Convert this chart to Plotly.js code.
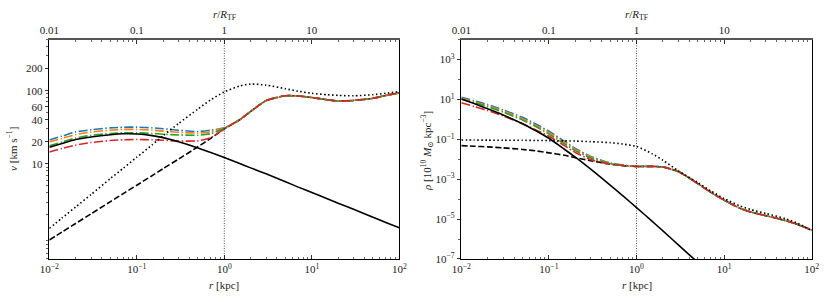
<!DOCTYPE html>
<html>
<head>
<meta charset="utf-8">
<script src="https://cdn.plot.ly/plotly-3.0.1.min.js"></script>
<style>html,body{margin:0;padding:0;background:#fff;}#plot{width:830px;height:302px;}</style>
</head>
<body>
<div id="plot"></div>
<script>
// ---------------- DATA ----------------
const r = [0.01, 0.014, 0.02, 0.03, 0.05, 0.07, 0.1, 0.15, 0.2, 0.3, 0.5, 0.7, 1, 1.5, 2, 3, 5, 7, 10, 15, 20, 30, 50, 70, 100];
const R_TF = 1;

// left panel: circular velocity [km/s]
const vSolid  = [16.8, 19.0, 21.5, 23.3, 25.0, 25.7, 25.6, 24.3, 22.8, 20.0, 16.5, 14.3, 12.2, 10.1, 8.8, 7.3, 5.7, 4.8, 4.05, 3.33, 2.9, 2.4, 1.86, 1.58, 1.34];
const vDashed = [0.91, 1.17, 1.53, 2.07, 3.04, 3.92, 5.1, 6.9, 8.6, 11.6, 17.1, 22.3, 30, 40, 52, 73, 85, 84.5, 80.5, 75, 72.3, 73.5, 78.5, 86, 93];
const vDotted = [1.31, 1.82, 2.57, 3.8, 6.3, 8.7, 12.3, 18.2, 24.2, 35.5, 56, 75, 96, 116, 123, 119, 106, 98, 92, 88, 86, 85, 88, 92, 97];
const vBlue   = [21.2, 23.9, 27.3, 29.2, 31.0, 31.6, 31.7, 31.0, 30.2, 28.8, 27.6, 28.8, 31, 40, 52, 73, 85, 84.5, 80.5, 75, 72.3, 73.5, 78.5, 86, 93];
const vOrange = [19.8, 22.3, 25.0, 27.2, 28.8, 29.5, 29.5, 28.8, 28.0, 27.0, 26.3, 27.4, 31, 40, 52, 73, 85, 84.5, 80.5, 75, 72.3, 73.5, 78.5, 86, 93];
const vGreen  = [17.6, 19.9, 22.5, 24.5, 26.0, 26.5, 26.5, 26.0, 25.4, 24.8, 24.6, 25.8, 30.5, 40, 52, 73, 85, 84.5, 80.5, 75, 72.3, 73.5, 78.5, 86, 93];
const vRed    = [14.5, 16.2, 18.0, 19.5, 20.8, 21.3, 21.5, 21.3, 21.0, 20.5, 20.6, 22.8, 30, 40, 52, 73, 85, 84.5, 80.5, 75, 72.3, 73.5, 78.5, 86, 93];

// right panel: density [1e10 Msun/kpc^3]
const rhoSolid  = [10.5, 6.17, 3.39, 1.66, 0.603, 0.275, 0.112, 0.0316, 0.0126, 3.16e-3, 5.0e-4, 1.45e-4, 3.8e-5, 7.9e-6, 2.57e-6, 5.1e-7, 6.8e-8, 1.8e-8];
const rhoDashed = [0.0479, 0.0447, 0.0417, 0.0372, 0.0309, 0.0263, 0.0209, 0.0158, 0.0120, 8.5e-3, 5.75e-3, 4.79e-3, 4.37e-3, 4.37e-3, 4.07e-3, 2.4e-3, 6.03e-4, 2.24e-4, 8.9e-5, 3.55e-5, 2.29e-5, 1.48e-5, 8.5e-6, 5.25e-6, 2.82e-6];
const rhoDotted = [0.0912, 0.0912, 0.0902, 0.0891, 0.0891, 0.0871, 0.0861, 0.0832, 0.0813, 0.0759, 0.0676, 0.0575, 0.0437, 0.0191, 8.9e-3, 2.63e-3, 6.76e-4, 2.63e-4, 1.07e-4, 4.68e-5, 3.02e-5, 1.91e-5, 1.05e-5, 6.03e-6, 2.63e-6];
const rhoBlue   = [12.9, 8.51, 5.5, 2.95, 1.26, 0.603, 0.251, 0.0794, 0.0347, 0.0138, 6.46e-3, 5.13e-3, 4.37e-3, 4.37e-3, 4.07e-3, 2.4e-3, 6.03e-4, 2.24e-4, 8.9e-5, 3.55e-5, 2.29e-5, 1.48e-5, 8.5e-6, 5.25e-6, 2.82e-6];
const rhoOrange = [11.5, 7.59, 4.79, 2.57, 1.07, 0.513, 0.214, 0.0692, 0.0309, 0.0126, 6.17e-3, 5.01e-3, 4.37e-3, 4.37e-3, 4.07e-3, 2.4e-3, 6.03e-4, 2.24e-4, 8.9e-5, 3.55e-5, 2.29e-5, 1.48e-5, 8.5e-6, 5.25e-6, 2.82e-6];
const rhoGreen  = [10.5, 6.92, 4.27, 2.29, 0.933, 0.447, 0.182, 0.0589, 0.0269, 0.0115, 6.03e-3, 4.9e-3, 4.37e-3, 4.37e-3, 4.07e-3, 2.4e-3, 6.03e-4, 2.24e-4, 8.9e-5, 3.55e-5, 2.29e-5, 1.48e-5, 8.5e-6, 5.25e-6, 2.82e-6];
const rhoRed    = [6.76, 4.37, 2.75, 1.48, 0.603, 0.302, 0.141, 0.0479, 0.0219, 9.55e-3, 5.62e-3, 4.79e-3, 4.37e-3, 4.37e-3, 4.07e-3, 2.4e-3, 6.03e-4, 2.24e-4, 8.9e-5, 3.55e-5, 2.29e-5, 1.48e-5, 8.5e-6, 5.25e-6, 2.82e-6];

// tick labels
const xTickVals = [0.01, 0.1, 1, 10, 100];
const xTickText = ['10<sup>−2</sup>', '10<sup>−1</sup>', '10<sup>0</sup>', '10<sup>1</sup>', '10<sup>2</sup>'];
const topTickVals = [0.01, 0.1, 1, 10];
const topTickText = ['0.01', '0.1', '1', '10'];
const vTickVals = [10, 20, 40, 60, 100, 200];
const vTickText = ['10', '20', '40', '60', '100', '200'];
const rhoTickVals = [1e3, 1e1, 1e-1, 1e-3, 1e-5, 1e-7];
const rhoTickText = ['10<sup>3</sup>', '10<sup>1</sup>', '10<sup>−1</sup>', '10<sup>−3</sup>', '10<sup>−5</sup>', '10<sup>−7</sup>'];

// ---------------- styling ----------------
const C = {blue: '#1f77b4', orange: '#ff7f0e', green: '#2ca02c', red: '#d62728', black: '#000000'};
const DASH = '6px,2.5px', DOT = '1.5px,2.5px', DASHDOT = '9px,2.4px,1.5px,2.4px';
const FONT = 'Liberation Serif, DejaVu Serif, serif';

function minorLog(decades, subs) {
  const out = [];
  decades.forEach(d => subs.forEach(s => out.push(s * d)));
  return out;
}
const xMinor = minorLog([0.01, 0.1, 1, 10], [2, 3, 4, 5, 6, 7, 8, 9]);
const vMinor = [0.5, 0.6, 0.7, 0.8, 0.9, 2, 3, 4, 5, 6, 7, 8, 9, 30, 50, 70, 80, 90, 300, 400, 500];
const rhoMinor = [1e4, 1e2, 1, 1e-2, 1e-4, 1e-6];

function tr(x, y, color, dash, xa, ya, w) {
  return {x: x, y: y, type: 'scatter', mode: 'lines', xaxis: xa, yaxis: ya, hoverinfo: 'skip', showlegend: false,
          line: {color: color, dash: dash, width: w || 1.6, shape: 'spline', smoothing: 0.6}};
}
// invisible carriers so that the top r/R_TF axes are drawn
function carrier(xa, ya, y) {
  return {x: r, y: y, type: 'scatter', mode: 'lines', xaxis: xa, yaxis: ya, hoverinfo: 'skip', showlegend: false,
          opacity: 0, line: {width: 0}};
}

const traces = [
  tr(r, vDashed, C.black, DASH, 'x', 'y'),
  tr(r, vBlue, C.blue, DASHDOT, 'x', 'y'),
  tr(r, vOrange, C.orange, DASHDOT, 'x', 'y'),
  tr(r, vGreen, C.green, DASHDOT, 'x', 'y'),
  tr(r, vRed, C.red, DASHDOT, 'x', 'y'),
  tr(r, vSolid, C.black, 'solid', 'x', 'y'),
  tr(r, vDotted, C.black, DOT, 'x', 'y'),
  tr(r, rhoDashed, C.black, DASH, 'x2', 'y2'),
  tr(r, rhoBlue, C.blue, DASHDOT, 'x2', 'y2'),
  tr(r, rhoOrange, C.orange, DASHDOT, 'x2', 'y2'),
  tr(r, rhoGreen, C.green, DASHDOT, 'x2', 'y2'),
  tr(r, rhoRed, C.red, DASHDOT, 'x2', 'y2'),
  tr(r.slice(0, rhoSolid.length), rhoSolid, C.black, 'solid', 'x2', 'y2'),
  tr(r, rhoDotted, C.black, DOT, 'x2', 'y2'),
  carrier('x3', 'y', vDotted),
  carrier('x4', 'y2', rhoDotted)
];

const tickFont = {family: FONT, size: 11, color: '#222'};
function xBottom(domain, anchor) {
  return {domain: domain, anchor: anchor, type: 'log', range: [-2, 2], tickvals: xTickVals, ticktext: xTickText,
          ticks: 'inside', ticklen: 4, tickwidth: 0.8, tickcolor: '#000', showline: true, linecolor: '#000', linewidth: 1,
          showgrid: false, zeroline: false, tickfont: tickFont, automargin: false,
          minor: {tickvals: xMinor, ticks: 'inside', ticklen: 2, tickwidth: 0.6, tickcolor: '#000', showgrid: false}};
}
function xTop(over, anchor) {
  return {overlaying: over, anchor: anchor, side: 'top', type: 'log', range: [-2, 2], tickvals: topTickVals, ticktext: topTickText,
          ticks: 'inside', ticklen: 4, tickwidth: 0.8, tickcolor: '#000', showline: true, linecolor: '#555', linewidth: 1.5,
          showgrid: false, zeroline: false, tickfont: tickFont, automargin: false,
          minor: {tickvals: xMinor, ticks: 'inside', ticklen: 2, tickwidth: 0.6, tickcolor: '#000', showgrid: false}};
}
function yAx(domain, anchor, range, tv, tt, minor) {
  return {domain: domain, anchor: anchor, type: 'log', range: range, tickvals: tv, ticktext: tt,
          ticks: 'outside', ticklen: 3.5, tickwidth: 0.8, tickcolor: '#000', showline: true, linecolor: '#000', linewidth: 1,
          mirror: true, showgrid: false, zeroline: false, tickfont: tickFont, automargin: false,
          minor: {tickvals: minor, ticks: 'outside', ticklen: 2, tickwidth: 0.6, tickcolor: '#000', showgrid: false}};
}

const yDom = [0.1424, 0.8692];
const titleFont = {family: FONT, size: 11, color: '#222'};
const layout = {
  width: 830, height: 302, margin: {l: 0, r: 0, t: 0, b: 0},
  paper_bgcolor: '#fff', plot_bgcolor: '#fff', showlegend: false,
  xaxis: xBottom([0.0594, 0.4811], 'y'),
  yaxis: yAx(yDom, 'x', [Math.log10(0.5), Math.log10(500)], vTickVals, vTickText, vMinor),
  xaxis2: xBottom([0.5558, 0.9780], 'y2'),
  yaxis2: yAx(yDom, 'x2', [-7, 4], rhoTickVals, rhoTickText, rhoMinor),
  xaxis3: xTop('x', 'y'),
  xaxis4: xTop('x2', 'y2'),
  shapes: [
    {type: 'line', xref: 'x', yref: 'y domain', x0: R_TF, x1: R_TF, y0: 0, y1: 1, line: {color: '#000', width: 0.7, dash: '1px,1.5px'}},
    {type: 'line', xref: 'x2', yref: 'y2 domain', x0: R_TF, x1: R_TF, y0: 0, y1: 1, line: {color: '#000', width: 0.7, dash: '1px,1.5px'}}
  ],
  annotations: [
    {xref: 'paper', yref: 'paper', x: 12 / 830, y: 0.507, text: '<i>v</i> [km s<sup>−1</sup>]', textangle: -90, showarrow: false, font: titleFont, xanchor: 'center', yanchor: 'middle'},
    {xref: 'paper', yref: 'paper', x: 427 / 830, y: 0.50, text: '<i>ρ</i> [10<sup>10</sup> <i>M</i><sub>⊙</sub> kpc<sup>−3</sup>]', textangle: -90, showarrow: false, font: titleFont, xanchor: 'center', yanchor: 'middle'},
    {xref: 'paper', yref: 'paper', x: 224 / 830, y: 1 - 285 / 302, text: '<i>r</i> [kpc]', showarrow: false, font: titleFont, xanchor: 'center', yanchor: 'middle'},
    {xref: 'paper', yref: 'paper', x: 636.5 / 830, y: 1 - 285 / 302, text: '<i>r</i> [kpc]', showarrow: false, font: titleFont, xanchor: 'center', yanchor: 'middle'},
    {xref: 'paper', yref: 'paper', x: 224 / 830, y: 1 - 15 / 302, text: '<i>r</i>/<i>R</i><sub>TF</sub>', showarrow: false, font: titleFont, xanchor: 'center', yanchor: 'middle'},
    {xref: 'paper', yref: 'paper', x: 636.5 / 830, y: 1 - 15 / 302, text: '<i>r</i>/<i>R</i><sub>TF</sub>', showarrow: false, font: titleFont, xanchor: 'center', yanchor: 'middle'}
  ]
};

Plotly.newPlot('plot', traces, layout, {staticPlot: true, displayModeBar: false});
</script>
</body>
</html>
